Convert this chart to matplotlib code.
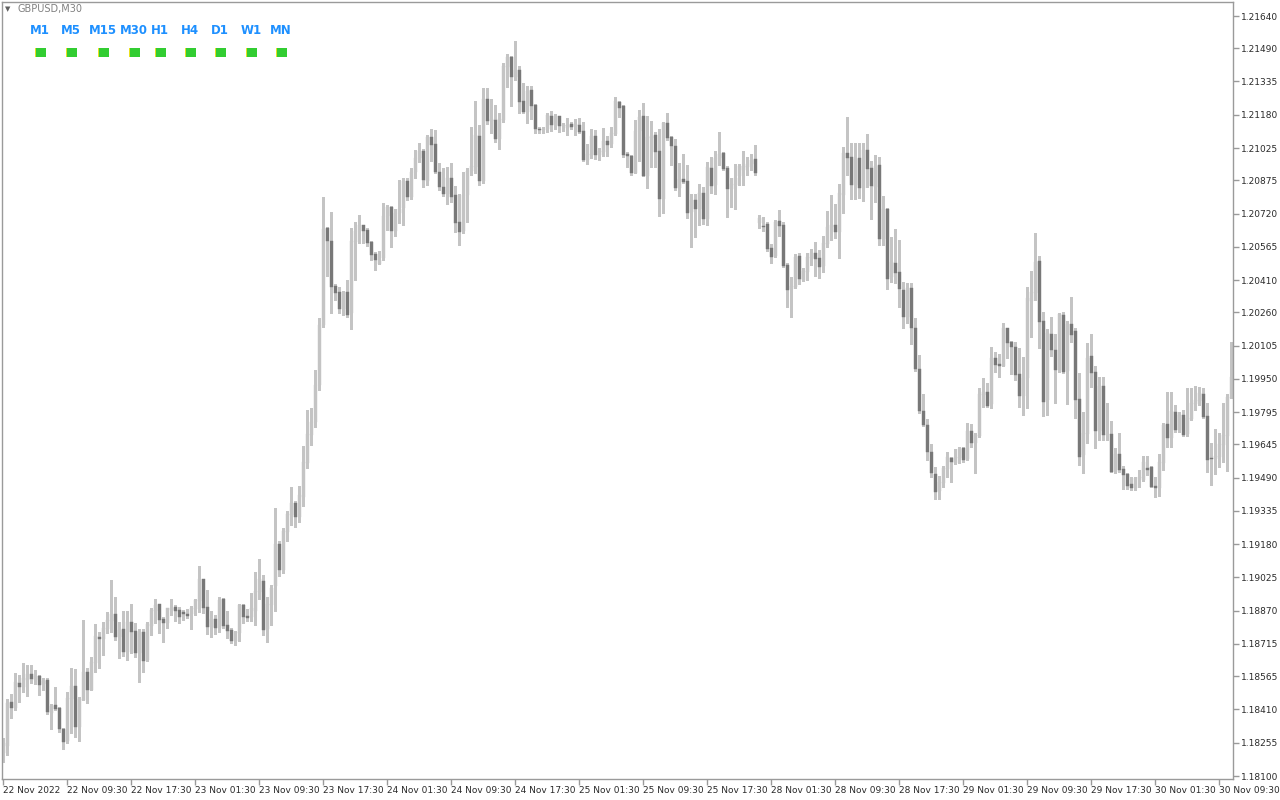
import matplotlib
matplotlib.use('Agg')
import matplotlib.pyplot as plt
from matplotlib.patches import Rectangle
import numpy as np

# GBPUSD M30 candles (oldest first)
open_ = [
    1.18207, 1.18240, 1.18445, 1.18417, 1.18533, 1.18515, 1.18547, 1.18575, 1.18547, 1.18566,
    1.18529, 1.18547, 1.18393, 1.18431, 1.18417, 1.18319, 1.18263, 1.18459, 1.18519, 1.18328,
    1.18454, 1.18584, 1.18501, 1.18626, 1.18747, 1.18738, 1.18785, 1.18822, 1.18855, 1.18747,
    1.18785, 1.18678, 1.18817, 1.18775, 1.18673, 1.18771, 1.18640, 1.18799, 1.18869, 1.18901,
    1.18831, 1.18813, 1.18873, 1.18887, 1.18873, 1.18864, 1.18855, 1.18855, 1.18878, 1.18915,
    1.19018, 1.18887, 1.18794, 1.18831, 1.18789, 1.18924, 1.18803, 1.18780, 1.18729, 1.18766,
    1.18896, 1.18845, 1.18841, 1.18869, 1.18957, 1.19008, 1.18785, 1.18896, 1.18985, 1.19181,
    1.19059, 1.19236, 1.19316, 1.19372, 1.19306, 1.19400, 1.19558, 1.19688, 1.19749, 1.19921,
    1.20201, 1.20653, 1.20592, 1.20382, 1.20355, 1.20275, 1.20355, 1.20257, 1.20587, 1.20639,
    1.20667, 1.20643, 1.20587, 1.20531, 1.20485, 1.20513, 1.20709, 1.20750, 1.20639, 1.20722,
    1.20746, 1.20871, 1.20797, 1.20913, 1.20979, 1.21011, 1.20871, 1.21077, 1.21044, 1.20913,
    1.20844, 1.20811, 1.20886, 1.20806, 1.20681, 1.20639, 1.20806, 1.20918, 1.20937, 1.21081,
    1.20871, 1.21253, 1.21151, 1.21156, 1.21067, 1.21156, 1.21403, 1.21449, 1.21356, 1.21389,
    1.21244, 1.21193, 1.21295, 1.21226, 1.21114, 1.21109, 1.21114, 1.21174, 1.21132, 1.21174,
    1.21128, 1.21118, 1.21137, 1.21128, 1.21132, 1.21104, 1.20969, 1.20993, 1.21081, 1.20993,
    1.21007, 1.21058, 1.21044, 1.21090, 1.21239, 1.21221, 1.20997, 1.20988, 1.20909, 1.21104,
    1.21174, 1.20895, 1.21072, 1.21086, 1.21011, 1.20788, 1.21142, 1.21077, 1.21034, 1.20839,
    1.20881, 1.20871, 1.20727, 1.20783, 1.20741, 1.20816, 1.20694, 1.20932, 1.20853, 1.20979,
    1.21002, 1.20932, 1.20834, 1.20853, 1.20895, 1.20923, 1.20937, 1.20951, 1.20974, 1.20676,
    1.20662, 1.20671, 1.20559, 1.20522, 1.20685, 1.20667, 1.20480, 1.20368, 1.20378, 1.20522,
    1.20410, 1.20448, 1.20513, 1.20536, 1.20513, 1.20476, 1.20578, 1.20657, 1.20667, 1.20634,
    1.20806, 1.21002, 1.20983, 1.20853, 1.20979, 1.20839, 1.21016, 1.20932, 1.20844, 1.20946,
    1.20601, 1.20741, 1.20424, 1.20489, 1.20448, 1.20364, 1.20238, 1.20373, 1.20187, 1.19996,
    1.19800, 1.19735, 1.19609, 1.19507, 1.19427, 1.19465, 1.19530, 1.19581, 1.19558, 1.19581,
    1.19628, 1.19577, 1.19707, 1.19651, 1.19684, 1.19875, 1.19889, 1.19833, 1.20047, 1.20019,
    1.20010, 1.20187, 1.20122, 1.20098, 1.19973, 1.19870, 1.19954, 1.20313, 1.20350, 1.20499,
    1.20219, 1.19851, 1.20159, 1.20084, 1.19991, 1.20247, 1.19987, 1.20205, 1.20173, 1.19856,
    1.19595, 1.19693, 1.20056, 1.19982, 1.19707, 1.19917, 1.19688, 1.19693, 1.19516, 1.19600,
    1.19530, 1.19507, 1.19460, 1.19441, 1.19488, 1.19479, 1.19535, 1.19539, 1.19451, 1.19441,
    1.19558, 1.19740, 1.19674, 1.19795, 1.19712, 1.19781, 1.19693, 1.19763, 1.19833, 1.19847,
    1.19879, 1.19777, 1.19581, 1.19577, 1.19586, 1.19642, 1.19684, 1.19861,
]
high = [
    1.18277, 1.18459, 1.18482, 1.18580, 1.18570, 1.18626, 1.18617, 1.18617, 1.18594, 1.18570,
    1.18557, 1.18557, 1.18435, 1.18515, 1.18421, 1.18324, 1.18491, 1.18603, 1.18598, 1.18468,
    1.18827, 1.18603, 1.18654, 1.18808, 1.18771, 1.18817, 1.18864, 1.19013, 1.18934, 1.18817,
    1.18869, 1.18869, 1.18901, 1.18813, 1.18785, 1.18785, 1.18817, 1.18882, 1.18924, 1.18901,
    1.18841, 1.18882, 1.18924, 1.18896, 1.18887, 1.18873, 1.18878, 1.18892, 1.18924, 1.19078,
    1.19018, 1.18966, 1.18869, 1.18850, 1.18934, 1.18929, 1.18869, 1.18789, 1.18775, 1.18901,
    1.18901, 1.18878, 1.18952, 1.19050, 1.19111, 1.19036, 1.18934, 1.18990, 1.19348, 1.19195,
    1.19255, 1.19334, 1.19446, 1.19381, 1.19451, 1.19637, 1.19805, 1.19814, 1.19991, 1.20233,
    1.20797, 1.20657, 1.20727, 1.20392, 1.20378, 1.20359, 1.20410, 1.20653, 1.20681, 1.20713,
    1.20667, 1.20653, 1.20592, 1.20541, 1.20545, 1.20769, 1.20760, 1.20755, 1.20741, 1.20876,
    1.20886, 1.20886, 1.20932, 1.21016, 1.21049, 1.21021, 1.21086, 1.21114, 1.21109, 1.20955,
    1.20932, 1.20937, 1.20955, 1.20848, 1.20811, 1.20913, 1.20932, 1.21123, 1.21244, 1.21132,
    1.21305, 1.21305, 1.21253, 1.21226, 1.21188, 1.21421, 1.21463, 1.21454, 1.21524, 1.21407,
    1.21328, 1.21314, 1.21314, 1.21230, 1.21123, 1.21123, 1.21188, 1.21198, 1.21184, 1.21174,
    1.21142, 1.21165, 1.21146, 1.21160, 1.21165, 1.21146, 1.21044, 1.21114, 1.21109, 1.21025,
    1.21118, 1.21081, 1.21123, 1.21263, 1.21244, 1.21226, 1.21007, 1.20993, 1.21156, 1.21202,
    1.21235, 1.21174, 1.21151, 1.21100, 1.21114, 1.21146, 1.21188, 1.21081, 1.21067, 1.20955,
    1.20997, 1.20946, 1.20811, 1.20811, 1.20857, 1.20844, 1.20960, 1.20983, 1.21011, 1.21100,
    1.21007, 1.20941, 1.20886, 1.20951, 1.20951, 1.21011, 1.20983, 1.20997, 1.21039, 1.20713,
    1.20704, 1.20681, 1.20578, 1.20690, 1.20736, 1.20681, 1.20489, 1.20424, 1.20531, 1.20536,
    1.20466, 1.20536, 1.20555, 1.20587, 1.20550, 1.20615, 1.20732, 1.20806, 1.20764, 1.20857,
    1.21030, 1.21170, 1.21049, 1.21049, 1.21049, 1.21049, 1.21090, 1.20965, 1.20993, 1.20983,
    1.20802, 1.20746, 1.20611, 1.20648, 1.20597, 1.20401, 1.20396, 1.20396, 1.20233, 1.20061,
    1.19879, 1.19763, 1.19646, 1.19539, 1.19497, 1.19544, 1.19609, 1.19586, 1.19623, 1.19632,
    1.19632, 1.19744, 1.19740, 1.19698, 1.19907, 1.19954, 1.19931, 1.20098, 1.20075, 1.20066,
    1.20210, 1.20187, 1.20126, 1.20122, 1.20094, 1.20052, 1.20378, 1.20452, 1.20629, 1.20522,
    1.20261, 1.20182, 1.20238, 1.20159, 1.20257, 1.20261, 1.20219, 1.20331, 1.20187, 1.19977,
    1.19795, 1.20117, 1.20159, 1.20010, 1.19959, 1.19959, 1.19837, 1.19754, 1.19628, 1.19698,
    1.19544, 1.19511, 1.19493, 1.19493, 1.19525, 1.19591, 1.19591, 1.19544, 1.19493, 1.19600,
    1.19744, 1.19889, 1.19889, 1.19828, 1.19795, 1.19805, 1.19907, 1.19907, 1.19917, 1.19912,
    1.19907, 1.19837, 1.19651, 1.19716, 1.19698, 1.19837, 1.19879, 1.20122,
]
low = [
    1.18165, 1.18198, 1.18370, 1.18407, 1.18445, 1.18491, 1.18473, 1.18533, 1.18529, 1.18477,
    1.18501, 1.18389, 1.18319, 1.18407, 1.18305, 1.18226, 1.18254, 1.18300, 1.18282, 1.18263,
    1.18454, 1.18440, 1.18501, 1.18584, 1.18603, 1.18664, 1.18766, 1.18771, 1.18733, 1.18650,
    1.18659, 1.18640, 1.18673, 1.18654, 1.18538, 1.18584, 1.18636, 1.18757, 1.18813, 1.18766,
    1.18724, 1.18789, 1.18850, 1.18822, 1.18813, 1.18827, 1.18836, 1.18785, 1.18850, 1.18864,
    1.18859, 1.18761, 1.18747, 1.18761, 1.18771, 1.18789, 1.18743, 1.18720, 1.18710, 1.18729,
    1.18813, 1.18822, 1.18822, 1.18803, 1.18924, 1.18757, 1.18724, 1.18803, 1.18869, 1.19032,
    1.19046, 1.19195, 1.19269, 1.19260, 1.19283, 1.19358, 1.19535, 1.19642, 1.19726, 1.19898,
    1.20191, 1.20429, 1.20257, 1.20317, 1.20257, 1.20247, 1.20238, 1.20182, 1.20410, 1.20583,
    1.20583, 1.20569, 1.20503, 1.20457, 1.20485, 1.20503, 1.20643, 1.20564, 1.20615, 1.20676,
    1.20667, 1.20783, 1.20788, 1.20886, 1.20960, 1.20844, 1.20853, 1.20965, 1.20909, 1.20830,
    1.20802, 1.20764, 1.20774, 1.20634, 1.20573, 1.20629, 1.20681, 1.20899, 1.20909, 1.20853,
    1.20862, 1.21137, 1.21095, 1.21053, 1.21021, 1.21146, 1.21309, 1.21221, 1.21342, 1.21188,
    1.21188, 1.21142, 1.21160, 1.21095, 1.21095, 1.21095, 1.21100, 1.21104, 1.21114, 1.21100,
    1.21104, 1.21086, 1.21114, 1.21086, 1.21095, 1.20965, 1.20951, 1.20979, 1.20974, 1.20969,
    1.20988, 1.20988, 1.21030, 1.21086, 1.21170, 1.20983, 1.20937, 1.20899, 1.20909, 1.20965,
    1.20895, 1.20839, 1.20937, 1.20937, 1.20709, 1.20722, 1.21062, 1.20946, 1.20830, 1.20802,
    1.20862, 1.20699, 1.20564, 1.20611, 1.20667, 1.20671, 1.20667, 1.20816, 1.20811, 1.20946,
    1.20923, 1.20704, 1.20750, 1.20741, 1.20853, 1.20853, 1.20899, 1.20923, 1.20899, 1.20653,
    1.20639, 1.20545, 1.20489, 1.20517, 1.20615, 1.20471, 1.20285, 1.20238, 1.20373, 1.20392,
    1.20406, 1.20410, 1.20480, 1.20429, 1.20420, 1.20448, 1.20564, 1.20597, 1.20606, 1.20513,
    1.20722, 1.20899, 1.20788, 1.20788, 1.20792, 1.20778, 1.20844, 1.20694, 1.20774, 1.20573,
    1.20573, 1.20368, 1.20401, 1.20396, 1.20285, 1.20187, 1.20210, 1.20112, 1.19987, 1.19791,
    1.19730, 1.19572, 1.19493, 1.19390, 1.19390, 1.19446, 1.19493, 1.19469, 1.19553, 1.19558,
    1.19563, 1.19572, 1.19632, 1.19511, 1.19679, 1.19819, 1.19819, 1.19814, 1.19982, 1.19959,
    1.20010, 1.20047, 1.19973, 1.19945, 1.19819, 1.19781, 1.19814, 1.20145, 1.20317, 1.20094,
    1.19777, 1.19781, 1.20056, 1.19837, 1.19982, 1.19977, 1.19833, 1.20122, 1.19768, 1.19549,
    1.19511, 1.19651, 1.19912, 1.19628, 1.19665, 1.19665, 1.19665, 1.19516, 1.19511, 1.19516,
    1.19437, 1.19437, 1.19432, 1.19432, 1.19446, 1.19474, 1.19502, 1.19446, 1.19400, 1.19404,
    1.19525, 1.19632, 1.19632, 1.19702, 1.19702, 1.19684, 1.19684, 1.19758, 1.19805, 1.19828,
    1.19768, 1.19516, 1.19455, 1.19507, 1.19539, 1.19563, 1.19521, 1.19861,
]
close = [
    1.18254, 1.18440, 1.18417, 1.18538, 1.18515, 1.18557, 1.18575, 1.18552, 1.18566, 1.18524,
    1.18542, 1.18398, 1.18426, 1.18412, 1.18319, 1.18258, 1.18463, 1.18519, 1.18328, 1.18459,
    1.18584, 1.18501, 1.18631, 1.18752, 1.18738, 1.18789, 1.18827, 1.18855, 1.18747, 1.18780,
    1.18678, 1.18817, 1.18771, 1.18673, 1.18771, 1.18636, 1.18808, 1.18873, 1.18896, 1.18827,
    1.18813, 1.18882, 1.18882, 1.18869, 1.18841, 1.18855, 1.18845, 1.18882, 1.18920, 1.19018,
    1.18882, 1.18794, 1.18831, 1.18789, 1.18920, 1.18799, 1.18775, 1.18729, 1.18771, 1.18896,
    1.18841, 1.18836, 1.18882, 1.18962, 1.19018, 1.18780, 1.18901, 1.18976, 1.19181, 1.19059,
    1.19241, 1.19320, 1.19372, 1.19306, 1.19409, 1.19563, 1.19693, 1.19749, 1.19921, 1.20201,
    1.20648, 1.20592, 1.20378, 1.20350, 1.20275, 1.20355, 1.20247, 1.20592, 1.20639, 1.20667,
    1.20639, 1.20583, 1.20527, 1.20503, 1.20503, 1.20709, 1.20750, 1.20639, 1.20722, 1.20741,
    1.20871, 1.20797, 1.20913, 1.20979, 1.21011, 1.20876, 1.21077, 1.21039, 1.20913, 1.20844,
    1.20811, 1.20886, 1.20797, 1.20676, 1.20634, 1.20806, 1.20918, 1.20941, 1.21086, 1.20871,
    1.21253, 1.21151, 1.21160, 1.21067, 1.21160, 1.21407, 1.21449, 1.21356, 1.21389, 1.21239,
    1.21193, 1.21291, 1.21221, 1.21114, 1.21109, 1.21114, 1.21179, 1.21132, 1.21174, 1.21128,
    1.21132, 1.21132, 1.21123, 1.21137, 1.21100, 1.20969, 1.20997, 1.21081, 1.20993, 1.21011,
    1.21058, 1.21039, 1.21095, 1.21244, 1.21211, 1.20993, 1.20988, 1.20909, 1.21104, 1.21170,
    1.20895, 1.21077, 1.21081, 1.21007, 1.20788, 1.21142, 1.21072, 1.21034, 1.20839, 1.20881,
    1.20867, 1.20722, 1.20783, 1.20741, 1.20816, 1.20694, 1.20937, 1.20848, 1.20979, 1.20997,
    1.20927, 1.20834, 1.20857, 1.20886, 1.20941, 1.20941, 1.20951, 1.20969, 1.20909, 1.20699,
    1.20657, 1.20555, 1.20517, 1.20681, 1.20662, 1.20476, 1.20364, 1.20382, 1.20517, 1.20415,
    1.20452, 1.20517, 1.20536, 1.20508, 1.20471, 1.20583, 1.20657, 1.20667, 1.20634, 1.20816,
    1.21002, 1.20979, 1.20853, 1.20974, 1.20839, 1.21016, 1.20927, 1.20848, 1.20941, 1.20601,
    1.20741, 1.20415, 1.20494, 1.20443, 1.20368, 1.20238, 1.20373, 1.20187, 1.19996, 1.19800,
    1.19735, 1.19609, 1.19511, 1.19423, 1.19469, 1.19535, 1.19586, 1.19563, 1.19586, 1.19623,
    1.19572, 1.19707, 1.19651, 1.19688, 1.19879, 1.19889, 1.19823, 1.20047, 1.20014, 1.20010,
    1.20187, 1.20117, 1.20098, 1.19968, 1.19870, 1.19954, 1.20326, 1.20355, 1.20494, 1.20215,
    1.19842, 1.20163, 1.20084, 1.19991, 1.20252, 1.19982, 1.20205, 1.20154, 1.19851, 1.19586,
    1.19698, 1.20047, 1.19977, 1.19707, 1.19917, 1.19688, 1.19693, 1.19516, 1.19600, 1.19525,
    1.19502, 1.19451, 1.19441, 1.19488, 1.19493, 1.19563, 1.19525, 1.19446, 1.19441, 1.19563,
    1.19735, 1.19674, 1.19800, 1.19712, 1.19781, 1.19688, 1.19768, 1.19837, 1.19851, 1.19884,
    1.19772, 1.19572, 1.19577, 1.19591, 1.19646, 1.19688, 1.19865, 1.19959,
]

price_labels = ['1.21640', '1.21490', '1.21335', '1.21180', '1.21025', '1.20875',
                '1.20720', '1.20565', '1.20410', '1.20260', '1.20105', '1.19950',
                '1.19795', '1.19645', '1.19490', '1.19335', '1.19180', '1.19025',
                '1.18870', '1.18715', '1.18565', '1.18410', '1.18255', '1.18100']
time_labels = ['22 Nov 2022', '22 Nov 09:30', '22 Nov 17:30', '23 Nov 01:30', '23 Nov 09:30',
               '23 Nov 17:30', '24 Nov 01:30', '24 Nov 09:30', '24 Nov 17:30', '25 Nov 01:30',
               '25 Nov 09:30', '25 Nov 17:30', '28 Nov 01:30', '28 Nov 09:30', '28 Nov 17:30',
               '29 Nov 01:30', '29 Nov 09:30', '29 Nov 17:30', '30 Nov 01:30', '30 Nov 09:30']
time_label_bars = [0, 16, 32, 48, 64, 80, 96, 112, 128, 144,
                   160, 176, 192, 208, 224, 240, 256, 272, 288, 304]
timeframes = ['M1', 'M5', 'M15', 'M30', 'H1', 'H4', 'D1', 'W1', 'MN']
tf_x = [40, 71, 103, 134, 160, 190, 220, 251, 281]

BULL = '#c4c4c4'
BEAR = '#787878'
WICK = '#c4c4c4'
FRAME = '#9a9a9a'

W, H = 1280, 800
fig = plt.figure(figsize=(W / 100, H / 100), dpi=100)
fig.patch.set_facecolor('white')

# main chart area (pixel box 2..1233 x 2..779)
ax = fig.add_axes([2 / W, 1 - 779 / H, 1231 / W, 777 / H])

o = np.array(open_)
c = np.array(close)
x = np.arange(len(c))
up = c >= o
px = (1.21640 - 1.18100) / 760.0  # price per pixel

ax.vlines(x, low, high, colors=WICK, linewidth=1, antialiased=False, zorder=1)
body_bottom = np.minimum(o, c)
body_h = np.maximum(np.abs(c - o), px)
ax.bar(x, body_h, bottom=body_bottom, width=0.78,
       color=np.where(up, BULL, BEAR), edgecolor=np.where(up, BULL, BEAR),
       linewidth=0.3, zorder=2)

ax.set_xlim(-0.325, 307.425)
ax.set_ylim(1.18100 - 3 * px, 1.21640 + 14 * px)

ax.yaxis.tick_right()
ax.set_yticks([float(v) for v in price_labels])
ax.set_yticklabels(price_labels)
ax.set_xticks(time_label_bars)
ax.set_xticklabels(time_labels, ha='left')
ax.tick_params(axis='y', direction='out', length=4, width=1, color=FRAME,
               labelsize=6.5, labelcolor='#2a2a2a', pad=2)
ax.tick_params(axis='x', direction='out', length=4, width=1, color=FRAME,
               labelsize=6.5, labelcolor='#2a2a2a', pad=1)
for s in ax.spines.values():
    s.set_color(FRAME)
    s.set_linewidth(1)

# overlay in pixel coordinates for the header and timeframe panel
ov = fig.add_axes([0, 0, 1, 1], facecolor='none')
ov.set_xlim(0, W)
ov.set_ylim(H, 0)
ov.axis('off')

ov.text(8, 9, '\u25bc', fontsize=5, color='#606060', ha='center', va='center')
ov.text(18, 9, 'GBPUSD,M30', fontsize=7, color='#808080', ha='left', va='center')

for name, cx in zip(timeframes, tf_x):
    ov.text(cx, 31, name, fontsize=8.5, fontweight='bold', color='#1e90ff',
            ha='center', va='center', family=['Liberation Sans Narrow', 'DejaVu Sans'])
    ov.add_patch(Rectangle((cx - 5.5, 48), 11, 9, facecolor='#32cd32', edgecolor='none'))
    ov.add_patch(Rectangle((cx - 5.5, 48), 1, 9, facecolor='#e8e020', edgecolor='none'))

fig.savefig('out.png', dpi=100)
